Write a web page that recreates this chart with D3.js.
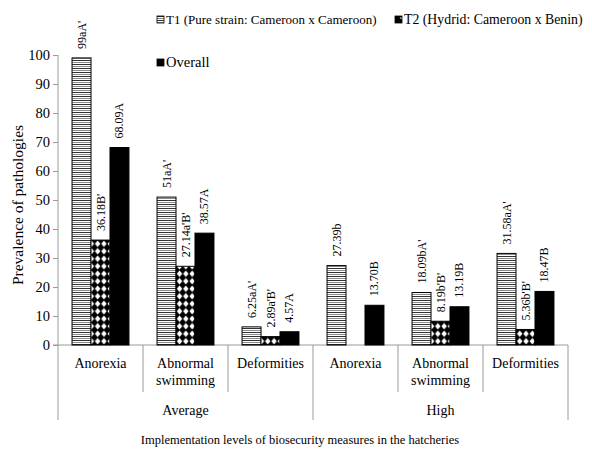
<!DOCTYPE html>
<html><head><meta charset="utf-8">
<script src="https://cdn.jsdelivr.net/npm/d3@7"></script>
<style>
body{margin:0;background:#fff;}
svg{display:block;}
svg text{font-family:"Liberation Serif","Times New Roman",serif !important;}
</style></head>
<body><svg id="c" width="592" height="450"></svg>
<script>
const levels = ["Average", "High"];
const categories = ["Anorexia", "Abnormal swimming", "Deformities", "Anorexia", "Abnormal swimming", "Deformities"];
const seriesNames = ["T1 (Pure strain: Cameroon x Cameroon)", "T2 (Hydrid: Cameroon x Benin)", "Overall"];
const t1 = [99, 51, 6.25, 27.39, 18.09, 31.58];
const t2 = [36.18, 27.14, 2.89, null, 8.19, 5.36];
const overall = [68.09, 38.57, 4.57, 13.70, 13.19, 18.47];
const t1Labels = ["99aA'", "51aA'", "6.25aA'", "27.39b", "18.09bA'", "31.58aA'"];
const t2Labels = ["36.18B'", "27.14a'B'", "2.89a'B'", "", "8.19b'B'", "5.36b'B'"];
const overallLabels = ["68.09A", "38.57A", "4.57A", "13.70B", "13.19B", "18.47B"];
const yTicks = [0, 10, 20, 30, 40, 50, 60, 70, 80, 90, 100];

(function () {
const svg = d3.select("#c");
const defs = svg.append("defs");

// T1 stripes
const p1 = defs.append("pattern").attr("id", "pT1").attr("patternUnits", "userSpaceOnUse")
  .attr("width", 8).attr("height", 4);
p1.append("rect").attr("width", 8).attr("height", 4).attr("fill", "#fff");
p1.append("rect").attr("y", 0).attr("width", 8).attr("height", 1).attr("fill", "#333");
p1.append("rect").attr("y", 2).attr("width", 8).attr("height", 1).attr("fill", "#8a8a8a");
// T2 diamonds
const p2 = defs.append("pattern").attr("id", "pT2").attr("patternUnits", "userSpaceOnUse")
  .attr("width", 6.3).attr("height", 7.5);
p2.append("rect").attr("width", 6.3).attr("height", 7.5).attr("fill", "#000");
p2.append("path").attr("d", "M3.15,0.4 L5.9,3.75 L3.15,7.1 L0.4,3.75 Z").attr("fill", "#fff");

const left = 58, right = 568, topY = 55, bottomY = 345;
const y = d3.scaleLinear().domain([0, 100]).range([bottomY, topY]);
const x0 = d3.scaleBand().domain(d3.range(categories.length)).range([left, right]).padding(0);
const x1 = d3.scaleBand().domain([0, 1, 2]).range([0, x0.bandwidth()]).paddingInner(0).paddingOuter(0.74);

const gray = "#9a9a9a";

// y axis
const yAxis = d3.axisLeft(y).tickValues(yTicks).tickSize(5).tickPadding(3).tickFormat(d3.format("d"));
const ya = svg.append("g").attr("transform", `translate(${left},0)`).call(yAxis);
ya.select(".domain").remove();
ya.selectAll(".tick line").attr("stroke", gray);
ya.selectAll(".tick text").attr("font-size", 14.5).attr("fill", "#000");
svg.append("line").attr("x1", left).attr("x2", left).attr("y1", topY).attr("y2", 420).attr("stroke", gray);
svg.append("line").attr("x1", left - 5).attr("x2", right).attr("y1", bottomY).attr("y2", bottomY).attr("stroke", gray);

// bars
const series = [t1, t2, overall];
const labels = [t1Labels, t2Labels, overallLabels];
const fills = ["url(#pT1)", "url(#pT2)", "#000"];
series.forEach((vals, s) => {
  const g = svg.append("g");
  vals.forEach((v, i) => {
    if (v == null) return;
    const bx = x0(i) + x1(s);
    g.append("rect").attr("x", bx).attr("y", y(v)).attr("width", x1.bandwidth()).attr("height", bottomY - y(v))
      .attr("fill", fills[s]).attr("stroke", "#000").attr("stroke-width", 1);
    if (labels[s][i]) {
      const cx = bx + x1.bandwidth() / 2 + 4;
      const cy = y(v) - 9;
      g.append("text").attr("transform", `translate(${cx},${cy}) rotate(-90)`)
        .attr("font-size", 12).attr("text-anchor", "start").text(labels[s][i]);
    }
  });
});

// category separators and labels
categories.forEach((c, i) => {
  const xe = x0(i) + x0.bandwidth();
  const isGroupEnd = (i === 2 || i === 5);
  svg.append("line").attr("x1", xe).attr("x2", xe).attr("y1", bottomY).attr("y2", isGroupEnd ? 420 : 392).attr("stroke", gray);
  const cx = x0(i) + x0.bandwidth() / 2;
  const words = c.split(" ");
  words.forEach((w, k) => {
    svg.append("text").attr("x", cx).attr("y", 368 + k * 17).attr("text-anchor", "middle").attr("font-size", 14).text(w);
  });
});
levels.forEach((l, j) => {
  const cx = x0(j * 3) + x0.bandwidth() * 1.5;
  svg.append("text").attr("x", cx).attr("y", 415).attr("text-anchor", "middle").attr("font-size", 14).text(l);
});

// axis titles
svg.append("text").attr("x", 300).attr("y", 444).attr("text-anchor", "middle").attr("font-size", 12.5)
  .text("Implementation levels of biosecurity measures in the hatcheries");
svg.append("text").attr("transform", "translate(23,205) rotate(-90)").attr("text-anchor", "middle").attr("font-size", 15.5)
  .text("Prevalence of pathologies");

// legend
const legend = [
  {x: 157, y: 16, s: 0, fs: 13},
  {x: 395, y: 16, s: 1, fs: 13.8},
  {x: 157, y: 59, s: 2, fs: 14.5}
];
legend.forEach(d => {
  svg.append("rect").attr("x", d.x).attr("y", d.y).attr("width", 7).attr("height", 7)
    .attr("fill", d.s === 1 ? "#000" : fills[d.s]).attr("stroke", "#000").attr("stroke-width", 0.8);
  if (d.s === 1) {
    svg.append("path").attr("d", `M${d.x + 4.5},${d.y + 1.5} l2,0 l0,2 Z`).attr("fill", "#fff");
  }
  svg.append("text").attr("x", d.x + 9).attr("y", d.y + 7.5).attr("font-size", d.fs).text(seriesNames[d.s]);
});
})();
</script></body></html>
